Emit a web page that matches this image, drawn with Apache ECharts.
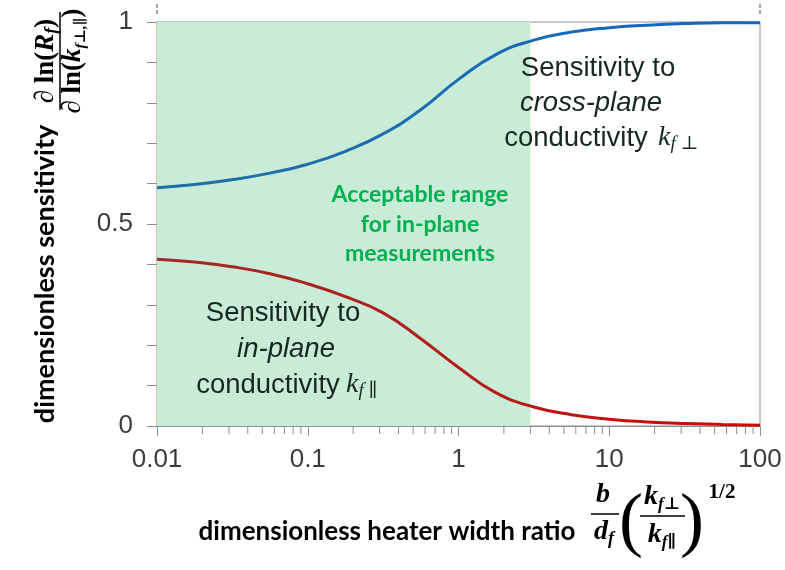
<!DOCTYPE html>
<html>
<head>
<meta charset="utf-8">
<script src="https://cdn.jsdelivr.net/npm/echarts@6/dist/echarts.min.js"></script>
<style>
  html, body { margin: 0; padding: 0; background: #fff; }
  #main { width: 785px; height: 570px; }
</style>
</head>
<body>
<div id="main"></div>
<script>
// heater width ratio (log scale) and the two sensitivity curves
const ratio = [0.01, 0.0178, 0.0316, 0.0562, 0.1, 0.178, 0.316, 0.562, 1, 1.78, 3.16, 5.62, 10, 17.8, 31.6, 56.2, 100]
const crossPlane = [0.590, 0.598, 0.610, 0.626, 0.648, 0.680, 0.723, 0.783, 0.858, 0.920, 0.955, 0.975, 0.986, 0.992, 0.996, 0.998, 0.998]
const inPlane = [0.413, 0.406, 0.394, 0.377, 0.352, 0.320, 0.280, 0.216, 0.145, 0.082, 0.047, 0.028, 0.017, 0.010, 0.006, 0.004, 0.002]
const acceptableRange = [0.01, 3]
const xTickLabels = ['0.01', '0.1', '1', '10', '100']
const yTickLabels = ['0', '0.5', '1']

const sans = '"Liberation Sans", Arial, sans-serif'
const bold = 'Lato, "Open Sans", sans-serif'
const serif = '"Liberation Serif", "DejaVu Serif", serif'
const axisGray = '#8f8f8f'
const ink = '#17281d'

const chart = echarts.init(document.getElementById('main'), null, { renderer: 'canvas' })

function mathRich (size, subSize) {
  return {
    o: { fontSize: size, fontWeight: 'bold', fontFamily: serif, fill: '#000', lineHeight: size + 4 },
    i: { fontSize: size, fontWeight: 'bold', fontStyle: 'italic', fontFamily: serif, fill: '#000', lineHeight: size + 4 },
    s: { fontSize: subSize, fontWeight: 'bold', fontStyle: 'italic', fontFamily: serif, fill: '#000', verticalAlign: 'bottom', lineHeight: subSize }
  }
}

function txt (x, y, text, font, color, extra) {
  return Object.assign({
    type: 'text', x: x, y: y, z: 100, silent: true,
    style: { text: text, font: font, fill: color || ink, align: 'center', verticalAlign: 'middle' }
  }, extra || {})
}

function annText (x, y, text, italic) {
  return txt(x, y, text, (italic ? 'italic ' : '') + '27.5px ' + sans, ink)
}

function kLabel (x, y, sub) {
  return {
    type: 'text', x: x, y: y, z: 100, silent: true,
    style: {
      text: '{k|k}{s|' + sub + '}', align: 'left', verticalAlign: 'middle',
      rich: {
        k: { fontSize: 28, fontStyle: 'italic', fontFamily: serif, fill: ink, lineHeight: 30 },
        s: { fontSize: 19, fontStyle: 'italic', fontFamily: serif, fill: ink, verticalAlign: 'bottom', lineHeight: 16 }
      }
    }
  }
}

function mathText (x, y, text, size, subSize) {
  return { type: 'text', x: x, y: y, z: 100, silent: true, style: { text: text, align: 'center', verticalAlign: 'middle', rich: mathRich(size, subSize) } }
}

function bar (x1, x2, y) {
  return { type: 'line', z: 100, silent: true, shape: { x1: x1, y1: y, x2: x2, y2: y }, style: { stroke: '#000', lineWidth: 1.5 } }
}

const labelGraphics = [
  // y axis title with its derivative fraction
  txt(45, 274, 'dimensionless sensitivity', 'bold 27px ' + bold, '#000', { rotation: Math.PI / 2 }),
  {
    type: 'group', x: 60, y: 61, rotation: Math.PI / 2, silent: true,
    children: [
      mathText(0, -14, '{i|∂}{o| ln(}{i|R}{s|f}{o|)}', 27, 18),
      bar(-49, 49, 0),
      mathText(0, 13, '{i|∂}{o| ln(}{i|k}{s|f⊥,∥}{o|)}', 27, 15)
    ]
  },
  // x axis title with the width ratio expression
  txt(387, 532, 'dimensionless heater width ratio', 'bold 26px ' + bold, '#000'),
  txt(603, 495, 'b', 'italic bold 28px ' + serif, '#000'),
  bar(591, 619, 514),
  mathText(604, 532, '{i|d}{s|f}', 28, 18),
  txt(631, 524, '(', '72px ' + serif, '#000'),
  mathText(662, 497, '{i|k}{s|f⊥}', 28, 17),
  bar(640, 685, 516),
  mathText(662, 535, '{i|k}{s|f∥}', 28, 17),
  txt(692, 524, ')', '72px ' + serif, '#000'),
  txt(722, 493, '1/2', 'bold 21px ' + serif, '#000'),
  // curve annotations
  annText(598, 68, 'Sensitivity to'),
  annText(591, 103, 'cross-plane', true),
  annText(576, 138, 'conductivity'),
  kLabel(658, 138, 'f ⊥'),
  annText(283, 313, 'Sensitivity to'),
  annText(286, 349, 'in-plane', true),
  annText(268, 385, 'conductivity'),
  kLabel(346, 385, 'f ∥'),
  // acceptable range note
  txt(420, 195, 'Acceptable range', 'bold 23px ' + bold, '#00b050'),
  txt(420, 225, 'for in-plane', 'bold 23px ' + bold, '#00b050'),
  txt(420, 254, 'measurements', 'bold 23px ' + bold, '#00b050')
]

const blueGrad = new echarts.graphic.LinearGradient(0, 0, 1, 0, [
  { offset: 0, color: '#20709f' }, { offset: 1, color: '#1565c8' }
])
const redGrad = new echarts.graphic.LinearGradient(0, 0, 1, 0, [
  { offset: 0, color: '#9f2a25' }, { offset: 0.6, color: '#b81818' }, { offset: 1, color: '#d40606' }
])

chart.setOption({
  animation: false,
  grid: { left: 157, right: 25, top: 22, bottom: 144, show: true, borderColor: axisGray, borderWidth: 1 },
  xAxis: {
    type: 'log', logBase: 10, min: 0.01, max: 100,
    axisLine: { lineStyle: { color: axisGray } },
    axisTick: { length: 10, lineStyle: { color: axisGray } },
    axisLabel: {
      fontSize: 26, fontFamily: sans, color: '#3c3c3c', margin: 21,
      formatter: v => xTickLabels.find(t => Math.abs(Math.log10(+t) - Math.log10(v)) < 1e-6) || ''
    },
    splitLine: { show: false }
  },
  yAxis: {
    type: 'value', min: 0, max: 1, interval: 0.5,
    axisLine: { show: true, lineStyle: { color: axisGray } },
    axisTick: { show: true, length: 10, lineStyle: { color: axisGray } },
    minorTick: { show: true, splitNumber: 5, length: 10, lineStyle: { color: axisGray } },
    axisLabel: {
      fontSize: 26, fontFamily: sans, color: '#3c3c3c', margin: 24,
      formatter: v => yTickLabels.find(t => Math.abs(+t - v) < 1e-6) || ''
    },
    splitLine: { show: false }
  },
  series: [
    {
      type: 'line', data: [], z: 1, silent: true,
      markArea: {
        silent: true,
        itemStyle: { color: '#c8ecd7' },
        data: [[{ xAxis: acceptableRange[0] }, { xAxis: acceptableRange[1] }]]
      }
    },
    {
      name: 'cross-plane', type: 'line', z: 3, smooth: true, showSymbol: false,
      data: ratio.map((r, i) => [r, crossPlane[i]]),
      lineStyle: { color: blueGrad, width: 3 }
    },
    {
      name: 'in-plane', type: 'line', z: 3, smooth: true, showSymbol: false,
      data: ratio.map((r, i) => [r, inPlane[i]]),
      lineStyle: { color: redGrad, width: 3 }
    }
  ],
  graphic: labelGraphics
})

// log-axis minor ticks (2..9 of every decade) and the little marks above the corners
const extra = []
for (let d = -2; d < 2; d++) {
  for (let k = 2; k <= 9; k++) {
    const p = chart.convertToPixel({ xAxisIndex: 0, yAxisIndex: 0 }, [k * Math.pow(10, d), 0])
    extra.push({ type: 'line', z: 50, silent: true, shape: { x1: p[0], y1: p[1], x2: p[0], y2: p[1] + 8 }, style: { stroke: axisGray, lineWidth: 1 } })
  }
}
;[0.01, 100].forEach(v => {
  const p = chart.convertToPixel({ xAxisIndex: 0, yAxisIndex: 0 }, [v, 1])
  extra.push({ type: 'line', z: 50, silent: true, shape: { x1: p[0], y1: p[1] - 18, x2: p[0], y2: p[1] - 6 }, style: { stroke: '#555', lineWidth: 1, lineDash: [4, 2] } })
})
chart.setOption({ graphic: labelGraphics.concat(extra) })
</script>
</body>
</html>
